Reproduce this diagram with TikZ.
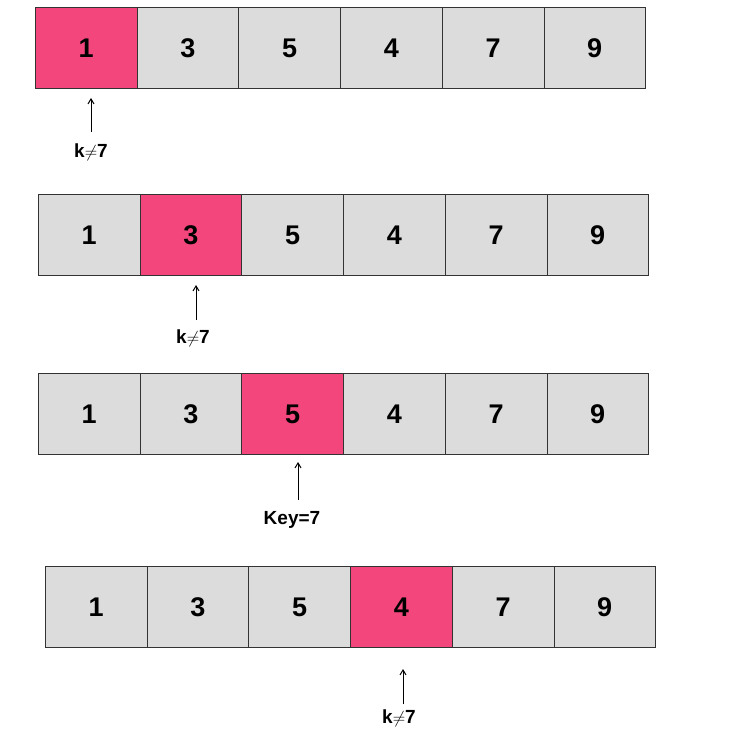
\documentclass[tikz,border=0pt]{standalone}
\usepackage{fontspec}
\setmainfont{Liberation Sans}
\usetikzlibrary{arrows.meta}
\definecolor{hot}{HTML}{F2467C}
\definecolor{cellgray}{HTML}{DCDCDC}
\tikzset{
  cell/.style={draw=black!80, line width=0.8pt, fill=cellgray, minimum width=101.7pt, minimum height=81pt, inner sep=0pt, font=\fontsize{27}{27}\selectfont\bfseries, anchor=north west},
  hl/.style={fill=hot},
  lbl/.style={font=\fontsize{19}{19}\selectfont\bfseries, inner sep=1pt},
  ptr/.style={-{Straight Barb[length=5pt,width=6pt]}, line width=1pt}
}
\begin{document}
\begin{tikzpicture}[x=1pt,y=-1pt]
\useasboundingbox (0,0) rectangle (737,730);
\foreach \r/\x/\y in {1/35/7, 2/38/194, 3/38/373, 4/45/566}{
  \foreach \v [count=\i] in {1,3,5,4,7,9}{
    \node[cell] (c\r\i) at ({\x+(\i-1)*101.7},\y) {\v};
  }
}
\node[cell,hl] (h1) at (35,7) {1};
\node[cell,hl] (h2) at (139.7,194) {3};
\node[cell,hl] (h3) at (241.4,373) {5};
\node[cell,hl] (h4) at (350.1,566) {4};
\node[lbl] (l1) at (91,152) {k$\neq$7};
\node[lbl] (l2) at (193,338) {k$\neq$7};
\node[lbl] (l3) at (292,520) {Key=7};
\node[lbl] (l4) at (399,718) {k$\neq$7};
\coordinate (a1) at (91,132); \coordinate (b1) at (91,98);
\coordinate (a2) at (196,320); \coordinate (b2) at (196,285);
\coordinate (a3) at (298,500); \coordinate (b3) at (298,462);
\coordinate (a4) at (403,704); \coordinate (b4) at (403,669);
\foreach \i in {1,...,4}{\draw[ptr] (a\i) -- (b\i);}
\end{tikzpicture}
\end{document}
